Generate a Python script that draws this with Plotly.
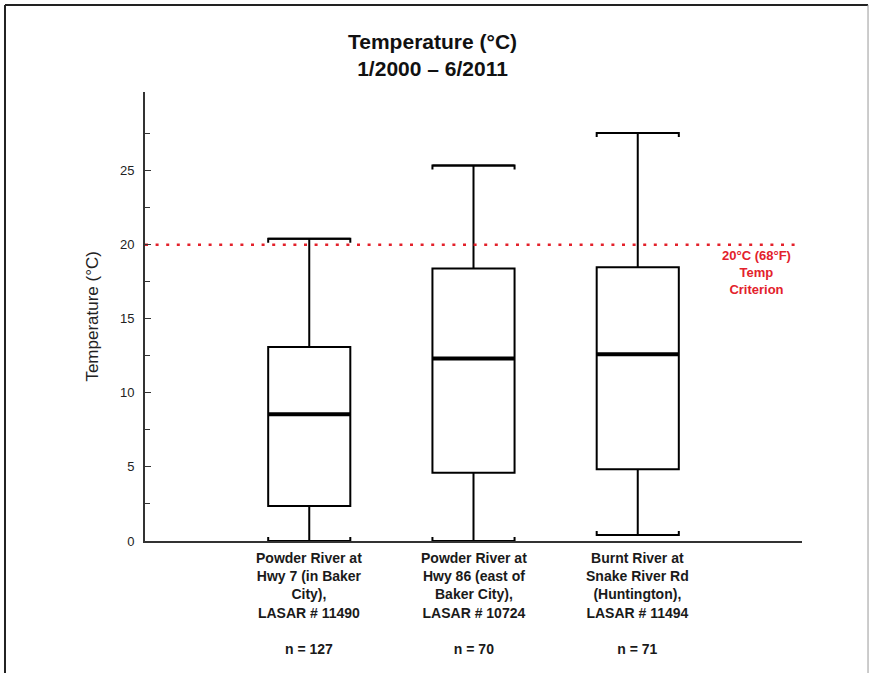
import plotly.graph_objects as go

# Sites along the Powder / Burnt rivers and their summary statistics (°C)
sites = [
    "Powder River at<br>Hwy 7 (in Baker<br>City),<br>LASAR # 11490",
    "Powder River at<br>Hwy 86 (east of<br>Baker City),<br>LASAR # 10724",
    "Burnt River at<br>Snake River Rd<br>(Huntington),<br>LASAR # 11494",
]
n_counts = [127, 70, 71]
positions = [1, 2, 3]
lower_whisker = [0.0, 0.0, 0.4]
q1 = [2.36, 4.61, 4.84]
median = [8.55, 12.31, 12.61]
q3 = [13.1, 18.39, 18.48]
upper_whisker = [20.39, 25.34, 27.53]
criterion = 20.0

y_ticks = [0, 5, 10, 15, 20, 25]
y_minor = [2.5, 7.5, 12.5, 17.5, 22.5, 27.5]

FONT = "Arial, 'Liberation Sans', sans-serif"
BOX_W = 0.5
CAP_TICK = 0.27

fig = go.Figure()

# Boxes with whiskers
fig.add_trace(go.Box(
    x=positions, q1=q1, median=median, q3=q3,
    lowerfence=lower_whisker, upperfence=upper_whisker,
    width=BOX_W, whiskerwidth=1,
    fillcolor="white", line=dict(color="black", width=2),
    boxpoints=False, hoverinfo="skip", showlegend=False,
))

# Heavier median bars
for p, m in zip(positions, median):
    fig.add_trace(go.Scatter(
        x=[p - BOX_W / 2, p + BOX_W / 2], y=[m, m], mode="lines",
        line=dict(color="black", width=4), hoverinfo="skip", showlegend=False,
    ))

# Bracket-style whisker caps
for p, lo, hi in zip(positions, lower_whisker, upper_whisker):
    x0, x1 = p - BOX_W / 2, p + BOX_W / 2
    fig.add_trace(go.Scatter(
        x=[x0, x0, x1, x1], y=[hi - CAP_TICK, hi, hi, hi - CAP_TICK], mode="lines",
        line=dict(color="black", width=2), hoverinfo="skip", showlegend=False,
    ))
    fig.add_trace(go.Scatter(
        x=[x0, x0, x1, x1], y=[lo + CAP_TICK, lo, lo, lo + CAP_TICK], mode="lines",
        line=dict(color="black", width=2), hoverinfo="skip", showlegend=False,
        cliponaxis=False,
    ))

# 20 °C criterion line
fig.add_trace(go.Scatter(
    x=[0, 3.97], y=[criterion, criterion], mode="lines",
    line=dict(color="#e3212b", width=2.5, dash="3px,7.6px"),
    hoverinfo="skip", showlegend=False,
))

annotations = []
for p, s, n in zip(positions, sites, n_counts):
    annotations.append(dict(
        x=p, y=0, xref="x", yref="paper", yanchor="top", xanchor="center",
        yshift=-7, showarrow=False, align="center",
        text=f"<b>{s}<br><br>n = {n}</b>",
        font=dict(family=FONT, size=14, color="#1a1a1a"),
    ))

annotations.append(dict(
    x=3.72, y=criterion, xref="x", yref="y", yanchor="top", xanchor="center",
    yshift=-1, showarrow=False, align="center",
    text="<b>20°C (68°F)<br>Temp<br>Criterion</b>",
    font=dict(family=FONT, size=13, color="#e3212b"),
))

annotations.append(dict(
    x=0.4375, y=1.0824, xref="paper", yref="paper", xanchor="center", yanchor="middle",
    showarrow=False, align="center",
    text="<b>Temperature (°C)<br>1/2000 – 6/2011</b>",
    font=dict(family=FONT, size=21, color="#111"),
))

annotations.append(dict(
    x=-0.0805, y=0.5, xref="paper", yref="paper", xanchor="center", yanchor="middle",
    showarrow=False, textangle=-90,
    text="Temperature (°C)",
    font=dict(family=FONT, size=17, color="#222"),
))

shapes = [
    dict(type="line", xref="paper", yref="paper", x0=-0.2131, x1=1.1005, y0=1.1938, y1=1.1938,
         line=dict(color="#222", width=2)),
    dict(type="line", xref="paper", yref="paper", x0=-0.2131, x1=-0.2131, y0=1.1938, y1=-0.35,
         line=dict(color="#222", width=2)),
    dict(type="line", xref="paper", yref="paper", x0=1.1005, x1=1.1005, y0=1.1938, y1=-0.35,
         line=dict(color="#999", width=1)),
]

fig.update_layout(
    width=869, height=673,
    margin=dict(l=145, r=67, t=92, b=132),
    paper_bgcolor="white", plot_bgcolor="white",
    annotations=annotations, shapes=shapes,
    showlegend=False,
    xaxis=dict(
        range=[0, 4], showgrid=False, zeroline=False, showticklabels=False,
        ticks="", showline=True, linecolor="#333", linewidth=2, layer="above traces",
        fixedrange=True,
    ),
    yaxis=dict(
        range=[0, 30.3], showgrid=False, zeroline=False,
        tickvals=y_ticks, ticktext=[str(v) for v in y_ticks],
        ticks="inside", ticklen=6, tickwidth=1, tickcolor="#333",
        minor=dict(tickvals=y_minor, ticks="inside", ticklen=5, tickwidth=1, tickcolor="#333"),
        showline=True, linecolor="#333", linewidth=2, layer="above traces",
        tickfont=dict(family=FONT, size=13, color="#222"),
        ticklabelstandoff=6,
        fixedrange=True,
    ),
)

fig.write_html("out.html")
